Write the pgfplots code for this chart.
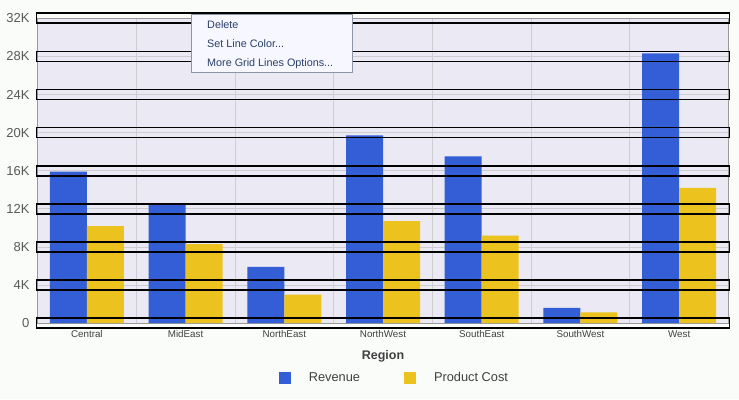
\documentclass[border=0pt]{standalone}
\usepackage{pgfplots}
\pgfplotsset{compat=1.18}
\usepackage{fontspec}
\setmainfont{Liberation Sans}
\definecolor{rev}{RGB}{51,94,214}
\definecolor{cost}{RGB}{236,195,30}
\definecolor{plotbg}{RGB}{235,233,244}
\definecolor{pagebg}{RGB}{250,252,250}
\definecolor{gridc}{RGB}{205,205,210}
\definecolor{menutext}{RGB}{40,62,105}
\definecolor{menuborder}{RGB}{140,150,165}
\begin{document}
\begin{tikzpicture}[x=1pt,y=1pt]
\fill[pagebg] (0,0) rectangle (739,399);
\useasboundingbox (0,0) rectangle (739,399);
\begin{axis}[
  at={(38,79.5)}, anchor=south west,
  scale only axis, width=691pt, height=305pt,
  ybar=0pt, bar width=37pt,
  xmin=-0.5, xmax=6.5, ymin=0, ymax=32000,
  scaled y ticks=false,
  axis background/.style={fill=plotbg},
  xtick=data,
  xticklabels={Central,MidEast,NorthEast,NorthWest,SouthEast,SouthWest,West},
  minor xtick={0.5,1.5,2.5,3.5,4.5,5.5},
  xminorgrids, minor grid style={gridc, line width=0.8pt},
  ytick={0,4000,8000,12000,16000,20000,24000,28000,32000},
  yticklabels={0,4K,8K,12K,16K,20K,24K,28K,32K},
  ymajorgrids, major grid style={gridc, line width=0.8pt},
  tick style={draw=none},
  axis line style={draw=gray!80, line width=0.8pt},
  /pgf/number format/assume math mode=true,
  yticklabel style={font=\fontsize{13}{14}\selectfont, text=black!65, xshift=-4.5pt},
  xticklabel style={font=\fontsize{9.8}{11}\selectfont, text=black!75, yshift=0.5pt},
  xlabel={\textbf{Region}},
  xlabel style={font=\fontsize{12.5}{13}\selectfont, text=black!75, yshift=-6pt},
  legend columns=2,
  legend style={at={(0.5165,-0.148)}, anchor=north, draw=none, fill=none,
    font=\fontsize{12.8}{13}\selectfont, text=black!75,
    /tikz/every even column/.append style={column sep=42pt}},
  legend image code/.code={\fill[#1] (0pt,-6pt) rectangle (12pt,6pt);},
  clip=false,
]
\addplot[fill=rev, draw=none] coordinates {(0,15900) (1,12600) (2,5900) (3,19700) (4,17500) (5,1600) (6,28300)};
\addplot[fill=cost, draw=none] coordinates {(0,10200) (1,8300) (2,3000) (3,10700) (4,9200) (5,1150) (6,14200)};
\legend{\hspace{16pt}Revenue,\hspace{16pt}Product Cost}
\pgfplotsinvokeforeach{0,4000,8000,12000,16000,20000,24000,28000,32000}{
  \draw[black, line width=1.6pt] ([xshift=-1pt,yshift=-5pt]axis cs:-0.5,#1) rectangle ([xshift=1pt,yshift=5pt]axis cs:6.5,#1);
}
\end{axis}
\draw[menuborder, fill=white!97!blue, line width=0.8pt] (191,385) rectangle (352,327);
\begin{scope}[font=\fontsize{10.8}{12}\selectfont, text=menutext]
\node[anchor=west, inner sep=0pt] at (207,374.5) {Delete};
\node[anchor=west, inner sep=0pt] at (207,355) {Set Line Color...};
\node[anchor=west, inner sep=0pt] at (207,335) {More Grid Lines Options...};
\end{scope}
\end{tikzpicture}
\end{document}
